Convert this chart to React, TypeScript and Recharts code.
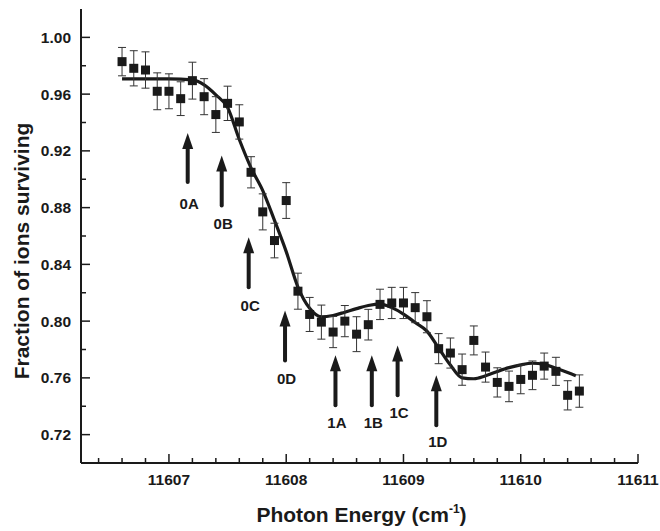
import { ComposedChart, Scatter, Line, XAxis, YAxis, ErrorBar, ReferenceLine, ReferenceDot } from "recharts";

// measured points (0.1 cm-1 steps)
const energy = [
  11606.6, 11606.7, 11606.8, 11606.9, 11607.0, 11607.1, 11607.2, 11607.3, 11607.4, 11607.5,
  11607.6, 11607.7, 11607.8, 11607.9, 11608.0, 11608.1, 11608.2, 11608.3, 11608.4, 11608.5,
  11608.6, 11608.7, 11608.8, 11608.9, 11609.0, 11609.1, 11609.2, 11609.3, 11609.4, 11609.5,
  11609.6, 11609.7, 11609.8, 11609.9, 11610.0, 11610.1, 11610.2, 11610.3, 11610.4, 11610.5,
];
const surviving = [
  0.9829, 0.9782, 0.977, 0.962, 0.962, 0.9568, 0.9695, 0.9582, 0.9456, 0.9535,
  0.9404, 0.9049, 0.877, 0.8568, 0.885, 0.8211, 0.8047, 0.7993, 0.7923, 0.8,
  0.7908, 0.7975, 0.8118, 0.8128, 0.8128, 0.8095, 0.8031, 0.7806, 0.7775, 0.7658,
  0.7864, 0.7676, 0.7568, 0.754, 0.7589, 0.7618, 0.7683, 0.7646, 0.7477, 0.7507,
];
const errors = [
  0.01, 0.0124, 0.0128, 0.013, 0.0123, 0.0119, 0.013, 0.0127, 0.0126, 0.0121,
  0.0121, 0.011, 0.0127, 0.0122, 0.0126, 0.0127, 0.012, 0.012, 0.011, 0.011,
  0.0123, 0.0108, 0.0107, 0.011, 0.011, 0.0106, 0.0113, 0.0106, 0.0106, 0.011,
  0.0102, 0.0106, 0.0103, 0.0108, 0.0101, 0.0101, 0.0092, 0.0099, 0.0103, 0.0114,
];

// fitted curve
const fitEnergy = [
  11606.6, 11606.8, 11607.0, 11607.2, 11607.3, 11607.4, 11607.5, 11607.6, 11607.7, 11607.8,
  11607.9, 11608.0, 11608.1, 11608.2, 11608.3, 11608.4, 11608.5, 11608.6, 11608.7, 11608.8,
  11608.9, 11609.0, 11609.1, 11609.2, 11609.3, 11609.4, 11609.5, 11609.6, 11609.7, 11609.8,
  11609.9, 11610.0, 11610.1, 11610.2, 11610.3, 11610.4, 11610.47,
];
const fitValue = [
  0.9707, 0.9707, 0.9707, 0.97, 0.9665, 0.9595, 0.9505, 0.928, 0.908, 0.892,
  0.871, 0.849, 0.824, 0.809, 0.803, 0.804, 0.8063, 0.8088, 0.811, 0.812,
  0.8095, 0.805, 0.799, 0.793, 0.781, 0.769, 0.76, 0.7594, 0.7615, 0.7645,
  0.7672, 0.7692, 0.7703, 0.7695, 0.7668, 0.7638, 0.7615,
];

// transition markers
const arrowNames = ["0A", "0B", "0C", "0D", "1A", "1B", "1C", "1D"];
const arrowEnergy = [11607.16, 11607.45, 11607.68, 11607.99, 11608.42, 11608.73, 11608.95, 11609.28];
const arrowTip = [0.9326, 0.9167, 0.8592, 0.8075, 0.7759, 0.7759, 0.7829, 0.7618];
const arrowBase = [0.8981, 0.8815, 0.8239, 0.7723, 0.7407, 0.7407, 0.7477, 0.7266];
const arrowLabelY = [0.8829, 0.8686, 0.8111, 0.7594, 0.7285, 0.7285, 0.7354, 0.7153];

const xTicks = [
  11606.4, 11606.6, 11606.8, 11607, 11607.2, 11607.4, 11607.6, 11607.8, 11608, 11608.2,
  11608.4, 11608.6, 11608.8, 11609, 11609.2, 11609.4, 11609.6, 11609.8, 11610, 11610.2,
  11610.4, 11610.6, 11610.8, 11611,
];
const yTicks = [0.72, 0.74, 0.76, 0.78, 0.8, 0.82, 0.84, 0.86, 0.88, 0.9, 0.92, 0.94, 0.96, 0.98, 1.0];

const points = energy.map((x, i) => ({ x, y: surviving[i], err: errors[i] }));
const fit = fitEnergy.map((x, i) => ({ x, y: fitValue[i] }));

const FONT = "'Liberation Sans', Arial, sans-serif";
const INK = "#1a1a1a";
const xDomain = [11606.25, 11611];
const yDomain = [0.7, 1.02];

const isMajorX = (v: number) => Math.abs(v - Math.round(v)) < 1e-6;
const isMajorY = (v: number) => Math.round(v * 100) % 4 === 0;

const BottomTick = ({ x, y, payload }: any) => {
  const major = isMajorX(payload.value);
  return (
    <g>
      <line x1={x} y1={y} x2={x} y2={y - (major ? 9 : 5)} stroke={INK} strokeWidth={1.5} />
      {major && (
        <text x={x} y={y + 22} textAnchor="middle" fontFamily={FONT} fontWeight="bold" fontSize={15.5} fill={INK}>
          {payload.value}
        </text>
      )}
    </g>
  );
};

const TopTick = ({ x, y, payload }: any) => (
  <line x1={x} y1={y} x2={x} y2={y + (isMajorX(payload.value) ? 9 : 5)} stroke={INK} strokeWidth={1.5} />
);

const LeftTick = ({ x, y, payload }: any) => {
  const major = isMajorY(payload.value);
  return (
    <g>
      <line x1={x} y1={y} x2={x + (major ? 9 : 5)} y2={y} stroke={INK} strokeWidth={1.5} />
      {major && (
        <text x={x - 10} y={y + 5.5} textAnchor="end" fontFamily={FONT} fontWeight="bold" fontSize={15.5} fill={INK}>
          {payload.value.toFixed(2)}
        </text>
      )}
    </g>
  );
};

const RightTick = ({ x, y, payload }: any) => (
  <line x1={x} y1={y} x2={x - (isMajorY(payload.value) ? 9 : 5)} y2={y} stroke={INK} strokeWidth={1.5} />
);

const Arrow = (props: any) => {
  const { x1, y1, x2, y2 } = props;
  const tip = Math.min(y1, y2);
  const base = Math.max(y1, y2);
  return (
    <g>
      <line x1={x1} y1={base} x2={x2} y2={tip + 12} stroke={INK} strokeWidth={4} strokeLinecap="round" />
      <polygon points={`${x1},${tip} ${x1 - 5.5},${tip + 16} ${x1 + 5.5},${tip + 16}`} fill={INK} />
    </g>
  );
};

const XTitle = ({ viewBox }: any) => (
  <text x={viewBox.x + viewBox.width / 2 + 2} y={viewBox.y + 59} textAnchor="middle" fontFamily={FONT} fontWeight="bold" fontSize={21} fill={INK}>
    Photon Energy (cm
    <tspan dy={-9} fontSize={12}>-1</tspan>
    <tspan dy={9}>)</tspan>
  </text>
);

const YTitle = ({ viewBox }: any) => {
  const cx = 29;
  const cy = viewBox.y + viewBox.height / 2 + 15;
  return (
    <text x={cx} y={cy} transform={`rotate(-90, ${cx}, ${cy})`} textAnchor="middle" fontFamily={FONT} fontWeight="bold" fontSize={21} fill={INK}>
      Fraction of ions surviving
    </text>
  );
};

const Square = ({ cx, cy }: any) => <rect x={cx - 4.5} y={cy - 4.5} width={9} height={9} fill={INK} />;

export default function App() {
  return (
    <div style={{ position: "absolute", left: 0, top: 0, background: "#fff" }}>
      <ComposedChart width={660} height={531} margin={{ top: 9, right: 22, bottom: 0, left: 0 }}>
        <XAxis
          xAxisId="b"
          type="number"
          dataKey="x"
          domain={xDomain}
          ticks={xTicks}
          interval={0}
          allowDataOverflow
          height={68}
          tickSize={0}
          tickMargin={0}
          tick={<BottomTick />}
          axisLine={{ stroke: INK, strokeWidth: 2 }}
          label={<XTitle />}
        />
        <XAxis
          xAxisId="t"
          orientation="top"
          type="number"
          dataKey="x"
          domain={xDomain}
          ticks={xTicks}
          interval={0}
          allowDataOverflow
          height={0}
          tickSize={0}
          tickMargin={0}
          tick={<TopTick />}
          axisLine={{ stroke: INK, strokeWidth: 2 }}
        />
        <YAxis
          yAxisId="l"
          type="number"
          domain={yDomain}
          ticks={yTicks}
          interval={0}
          allowDataOverflow
          width={81}
          tickSize={0}
          tickMargin={0}
          tick={<LeftTick />}
          axisLine={{ stroke: INK, strokeWidth: 2 }}
          label={<YTitle />}
        />
        <YAxis
          yAxisId="r"
          orientation="right"
          type="number"
          domain={yDomain}
          ticks={yTicks}
          interval={0}
          allowDataOverflow
          width={0}
          tickSize={0}
          tickMargin={0}
          tick={<RightTick />}
          axisLine={{ stroke: INK, strokeWidth: 2 }}
        />

        {arrowNames.map((name, i) => (
          <ReferenceLine
            key={`a-${name}`}
            xAxisId="b"
            yAxisId="l"
            segment={[
              { x: arrowEnergy[i], y: arrowBase[i] },
              { x: arrowEnergy[i], y: arrowTip[i] },
            ]}
            shape={<Arrow />}
          />
        ))}
        {arrowNames.map((name, i) => (
          <ReferenceDot
            key={`l-${name}`}
            xAxisId="b"
            yAxisId="l"
            x={arrowEnergy[i]}
            y={arrowLabelY[i]}
            r={0}
            shape={(p: any) => (
              <text x={p.cx + 1.5} y={p.cy + 5.5} textAnchor="middle" fontFamily={FONT} fontWeight="bold" fontSize={15} fill={INK}>
                {name}
              </text>
            )}
          />
        ))}

        <Line
          xAxisId="b"
          yAxisId="l"
          data={fit}
          dataKey="y"
          type="monotone"
          stroke={INK}
          strokeWidth={3.2}
          dot={false}
          activeDot={false}
          isAnimationActive={false}
        />
        <Scatter xAxisId="b" yAxisId="l" data={points} dataKey="y" shape={<Square />} isAnimationActive={false}>
          <ErrorBar dataKey="err" direction="y" width={4} stroke="#333" strokeWidth={1} />
        </Scatter>
      </ComposedChart>
    </div>
  );
}
